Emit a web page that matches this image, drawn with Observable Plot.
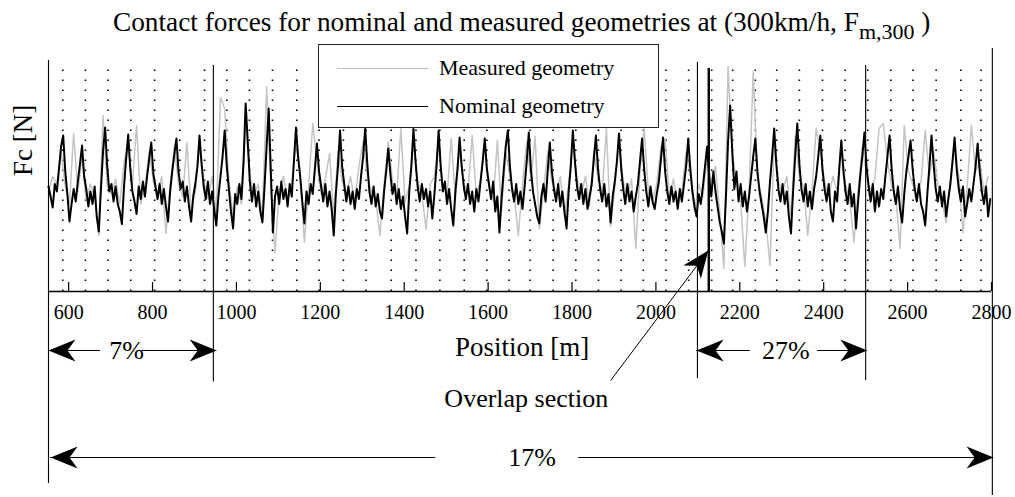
<!DOCTYPE html>
<html><head><meta charset="utf-8">
<script src="https://cdn.jsdelivr.net/npm/d3@7"></script>
<script src="https://cdn.jsdelivr.net/npm/@observablehq/plot@0.6"></script>
<style>
body{margin:0;background:#fff;width:1015px;height:497px;position:relative;overflow:hidden;font-family:"Liberation Serif","Times New Roman",serif;color:#000;}
#title{height:44px;font-size:27.3px;line-height:44px;white-space:nowrap;padding-left:113px;box-sizing:border-box;}
#title sub{font-size:22px;vertical-align:-8px;line-height:0;}
#legend{position:absolute;left:318px;top:44px;width:341px;height:84px;border:1.3px solid #222;background:#fff;box-sizing:border-box;}
.item{position:absolute;left:0;height:30px;display:flex;align-items:center;font-size:22px;white-space:nowrap;}
.swatch{width:91px;margin-left:18px;margin-right:11px;}
#chart svg{display:block;}
#chart svg, #chart svg text, #chart svg g{font-family:"Liberation Serif","Times New Roman",serif !important;}
</style></head>
<body>
<div id="title">Contact forces for nominal and measured geometries at (300km/h, F<sub>m,300</sub> )</div>
<div id="chart"></div>
<div id="legend"></div>
<script>
// ---- data (Fc in N, arbitrary scale; positions in m) ----
const x0 = 552;          // first sample position [m]
const nomStep = 5;       // nominal sampling step [m]
const measStep = 10;     // measured sampling step [m]

const nominal = [
210,190,168,215,200,245,290,312,240,195,
140,175,205,180,220,255,292,230,205,170,
200,175,210,150,120,205,280,328,250,200,
215,180,210,175,160,135,210,265,314,245,
200,180,155,210,185,220,190,230,265,298,
235,210,185,215,175,205,170,140,200,240,
275,306,240,205,220,180,210,170,140,190,
215,250,312,255,210,185,220,175,200,165,
132,190,230,270,322,250,205,160,126,195,
175,215,185,260,376,300,220,180,215,170,
200,160,138,210,290,366,240,118,190,210,
175,220,185,205,170,215,190,260,328,270,
230,180,136,200,175,215,195,245,296,240,
210,180,215,170,200,165,112,195,250,322,
250,215,180,210,175,200,165,205,185,230,
270,326,255,200,175,210,170,195,160,146,
200,240,286,235,195,215,175,205,165,190,
150,116,200,250,326,260,210,180,215,185,
205,170,200,146,195,250,322,250,200,220,
175,205,165,132,200,245,308,250,210,185,
215,175,200,160,205,180,220,260,306,245,
215,185,220,160,190,118,185,240,290,322,
250,205,180,215,175,200,165,210,260,318,
245,200,175,150,136,190,215,180,240,298,
240,205,180,215,170,200,160,126,200,250,
322,260,210,185,215,175,205,165,190,215,
265,312,245,205,180,215,170,195,138,190,
220,260,316,250,205,175,215,180,200,160,
190,215,260,306,245,200,170,210,180,165,
195,220,265,308,240,200,175,210,180,200,
165,205,180,215,250,306,245,200,170,150,
195,175,210,250,290,230,190,240,200,170,
140,120,96,190,300,372,280,205,240,180,
215,170,200,160,190,230,270,306,240,200,
175,150,118,160,220,270,326,255,205,180,
215,175,200,150,116,200,270,336,255,205,
180,215,170,200,165,205,230,270,312,245,
205,180,215,160,140,200,180,245,302,240,
200,175,215,170,195,126,180,230,270,318,
250,210,180,215,160,200,170,205,185,230,
270,312,245,200,175,210,165,138,195,240,
270,302,245,205,180,215,175,160,132,195,
250,312,255,205,180,210,170,200,150,185,
215,260,308,245,205,180,210,150,175,205,
180,215,250,296,240,200,175,210,150,185
];

const measured = [
200,230,215,280,210, 175,316,200,270,180, 215,190,112,352,210,
195,225,175,260,290, 215,332,175,210,280, 220,195,230,116,215,
290,215,190,298,160, 200,290,220,185,230, 160,388,366,220,150,
210,175,340,230,190, 215,150,410,210,78,  200,230,185,215,300,
230,98,210,336,260,  195,225,276,150,280, 220,195,230,180,250,
300,230,200,185,112, 215,300,220,190,326, 180,210,300,220,195,
125,215,230,300,215, 190,306,185,290,215, 200,312,190,225,290,
210,180,302,160,280, 230,195,112,215,300, 225,310,125,200,280,
220,195,230,150,215, 300,225,195,230,170, 280,225,200,326,130,
210,300,220,190,225, 86,240,326,200,180,  215,290,306,190,225,
170,200,280,235,160, 215,190,270,220,250, 160,46,450,280,220,
180,50,200,440,230,  190,140,52,300,220,  200,230,150,310,230,
210,112,200,326,280, 220,190,230,200,290, 215,185,98,200,290,
235,200,225,326,336, 260,210,190,86,332,  240,215,190,220,322,
230,280,215,180,138, 220,290,230,118,210, 332,240,260,200,230
];

const xTicks = [600,800,1000,1200,1400,1600,1800,2000,2200,2400,2600,2800];
const dropperX = [586,640,694,748,805,865,924,977,1031,1086,1144,1197,1255,1309,1369,1428,1485,1543,1597,1650,1700,1755,1809,1863,1917,1970,2024,2078,2133,2183,2237,2288,2342,2397,2451,2505,2560,2613,2668,2727,2775];

// section boundaries (solid verticals)
const boundX      = [552, 945, 2099, 2500, 2802];
const boundTop    = [462, 452, 458, 452, 486];
const boundBottom = [-384, -181, -174, -178, -408];
const overlapX = [2126];
const overlapTop = [446];

// percentage spans
const spanLabel  = ["7%", "27%", "17%"];
const spanFrom   = [552, 2097, 557];
const spanTo     = [953, 2504, 2805];
const spanLevel  = [-118, -118, -332];
const spanTextX  = [738, 2310, 1705];
const spanGapA   = [676, 2225, 1475];
const spanGapB   = [775, 2385, 1816];

// overlap annotation
const overlapLabel = "Overlap section";
const overlapTail = [1892, -178];
const overlapTip = [2125, 82];
const overlapText = [1691, -214];

const xLabel = "Position [m]";
const xLabelPos = [1681, -112];
const yLabel = "Fc [N]";

const legendItems = [
  {name: "Measured geometry", color: "#bdbdbd"},
  {name: "Nominal geometry", color: "#000"}
];

// ---- build tables ----
const nomData = nominal.map((v, i) => ({pos: x0 + i * nomStep, fc: v}));
const measData = measured.map((v, i) => ({pos: x0 + i * measStep, fc: v}));
const bounds = boundX.map((x, i) => ({x, top: boundTop[i], bottom: boundBottom[i]}));
const spans = spanLabel.map((t, i) => ({t, from: spanFrom[i], to: spanTo[i], y: spanLevel[i], tx: spanTextX[i], ga: spanGapA[i], gb: spanGapB[i]}));

const headLeft = {draw(c){c.moveTo(0,0);c.lineTo(27,-11);c.lineTo(19,0);c.lineTo(27,11);c.closePath();}};
const headRight = {draw(c){c.moveTo(0,0);c.lineTo(-27,-11);c.lineTo(-19,0);c.lineTo(-27,11);c.closePath();}};
const headUpRight = {draw(c){c.moveTo(0,0);c.lineTo(-25,15);c.lineTo(-11.4,15.2);c.lineTo(-7.5,28.2);c.closePath();}};

const serif = "Liberation Serif, Times New Roman, serif";

const chart = Plot.plot({
  width: 1015,
  height: 453,
  marginLeft: 48,
  marginRight: 24,
  marginTop: 16,
  marginBottom: 206,
  style: {fontFamily: serif, fontSize: "20px", background: "#fff", color: "#000", overflow: "visible"},
  x: {domain: [552, 2800], ticks: xTicks, tickSize: 0, tickPadding: 13, label: null, tickFormat: d => String(d)},
  y: {domain: [0, 462], axis: null},
  marks: [
    Plot.ruleX(dropperX, {y1: 0, y2: 452, stroke: "#000", strokeWidth: 1.6, strokeDasharray: "1.6,8.4"}),
    Plot.line(measData, {x: "pos", y: "fc", stroke: "#c4c4c4", strokeWidth: 1.5}),
    Plot.line(nomData, {x: "pos", y: "fc", stroke: "#000", strokeWidth: 2}),
    Plot.ruleX(bounds, {x: "x", y1: "bottom", y2: "top", stroke: "#000", strokeWidth: 1.1}),
    Plot.ruleX(overlapX, {y1: 0, y2: overlapTop[0], stroke: "#000", strokeWidth: 2.4}),
    Plot.ruleX(xTicks, {y1: 0, y2: 18, stroke: "#000", strokeWidth: 1.2}),
    Plot.ruleY([0], {stroke: "#000", strokeWidth: 1.4}),
    // span arrows
    Plot.ruleY(spans, {y: "y", x1: "from", x2: "ga", stroke: "#000", strokeWidth: 1.2}),
    Plot.ruleY(spans, {y: "y", x1: "gb", x2: "to", stroke: "#000", strokeWidth: 1.2}),
    Plot.dot(spans, {x: "from", y: "y", symbol: headLeft, fill: "#000", stroke: "none"}),
    Plot.dot(spans, {x: "to", y: "y", symbol: headRight, fill: "#000", stroke: "none"}),
    Plot.text(spans, {x: "tx", y: "y", text: "t", fontSize: 26, fill: "#000"}),
    // overlap annotation
    Plot.link([0], {x1: () => overlapTail[0], y1: () => overlapTail[1], x2: () => overlapTip[0], y2: () => overlapTip[1], stroke: "#000", strokeWidth: 1}),
    Plot.dot([0], {x: () => overlapTip[0], y: () => overlapTip[1], symbol: headUpRight, fill: "#000", stroke: "none"}),
    Plot.text([overlapLabel], {x: () => overlapText[0], y: () => overlapText[1], text: d => d, fontSize: 26, fill: "#000"}),
    // axis labels
    Plot.text([xLabel], {x: () => xLabelPos[0], y: () => xLabelPos[1], text: d => d, fontSize: 27, fill: "#000"}),
    Plot.text([yLabel], {frameAnchor: "left", dx: -25, rotate: -90, text: d => d, fontSize: 27, fill: "#000"})
  ]
});
document.getElementById("chart").append(chart);

// legend
const lg = document.getElementById("legend");
legendItems.forEach((it, i) => {
  const row = document.createElement("div");
  row.className = "item";
  row.style.top = (i === 0 ? 8 : 46) + "px";
  const sw = document.createElement("div");
  sw.className = "swatch";
  sw.style.borderTop = (i === 0 ? "1.3px" : "1.6px") + " solid " + it.color;
  const tx = document.createElement("span");
  tx.textContent = it.name;
  row.append(sw, tx);
  lg.append(row);
});
</script>
</body></html>
